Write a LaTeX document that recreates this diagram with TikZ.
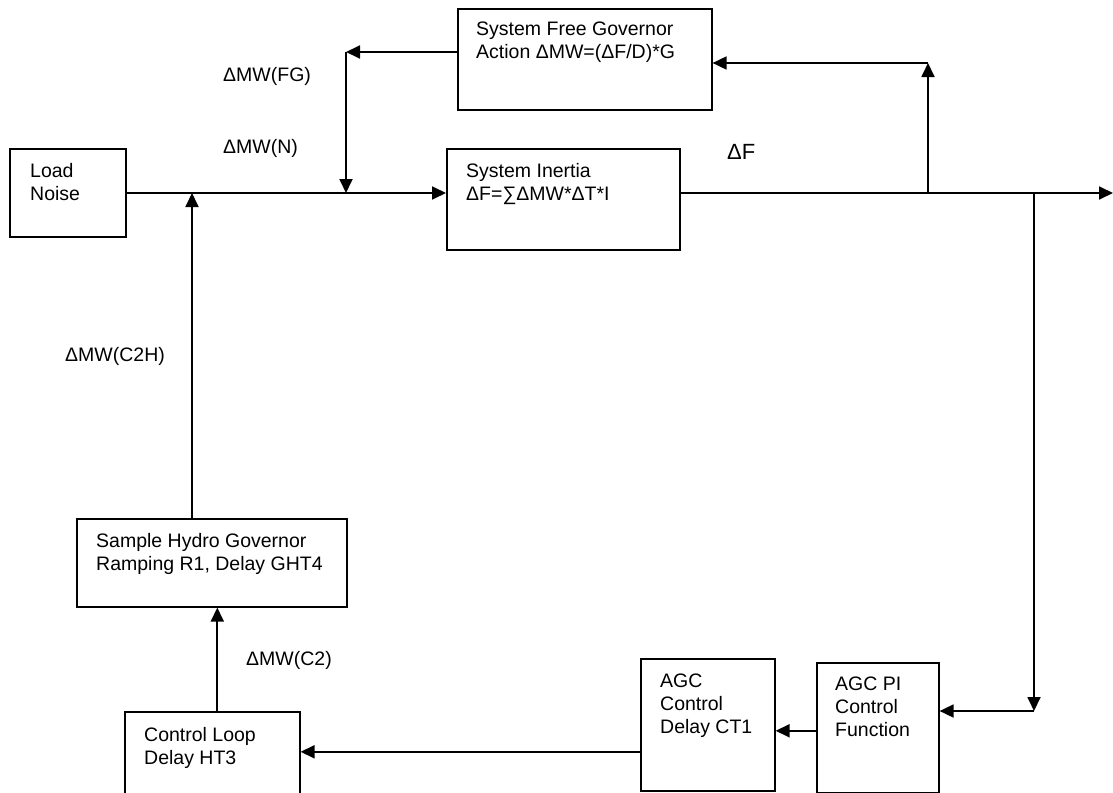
\documentclass[tikz,border=0pt]{standalone}
\usepackage{fontspec}
\setmainfont{Liberation Sans}
\usetikzlibrary{arrows.meta,calc}
\tikzset{
  blk/.style={draw, line width=1.6pt, inner sep=0pt, anchor=north west},
  txt/.style={inner sep=0pt, anchor=north west, align=left, font=\fontsize{19.5}{23}\selectfont},
  bigtxt/.style={inner sep=0pt, anchor=north west, font=\fontsize{22}{26}\selectfont},
  wire/.style={line width=1.8pt},
  arr/.style={line width=1.8pt, -{Triangle[length=14pt,width=13pt]}}
}
\begin{document}
\begin{tikzpicture}[x=1pt,y=-1pt]
\useasboundingbox (0,0) rectangle (1113,792);
\clip (0,0) rectangle (1113,792);
% boxes
\node[blk, minimum width=116pt, minimum height=88pt] (LN) at (9,148) {};
\node[blk, minimum width=254pt, minimum height=101pt] (SFG) at (457,8) {};
\node[blk, minimum width=233pt, minimum height=101pt] (SI) at (446,148) {};
\node[blk, minimum width=270pt, minimum height=88pt] (HG) at (76,518) {};
\node[blk, minimum width=175pt, minimum height=100pt] (CL) at (124,711) {};
\node[blk, minimum width=134pt, minimum height=132pt] (AGC) at (640,658) {};
\node[blk, minimum width=122pt, minimum height=130pt] (PI) at (816,662) {};
% box texts
\node[txt] (tLN) at (30,163) {Load\\Noise};
\node[txt] (tSFG) at (476,22) {System Free Governor\\Action ΔMW=(ΔF/D)*G};
\node[txt] (tSI) at (466,163) {System Inertia\\ΔF=∑ΔMW*ΔT*I};
\node[txt] (tHG) at (96,533) {Sample Hydro Governor\\Ramping R1, Delay GHT4};
\node[txt] (tCL) at (144,727) {Control Loop\\Delay HT3};
\node[txt] (tAGC) at (660,674) {AGC\\Control\\Delay CT1};
\node[txt] (tPI) at (835,677) {AGC PI\\Control\\Function};
% labels
\node[txt] (lFG) at (223,67) {ΔMW(FG)};
\node[txt] (lN) at (223,139) {ΔMW(N)};
\node[txt] (lC2H) at (65,347) {ΔMW(C2H)};
\node[txt] (lC2) at (246,651) {ΔMW(C2)};
\node[bigtxt] (lDF) at (727,144) {ΔF};
% junction coordinates
\coordinate (j1) at (192,193);
\coordinate (fg) at (346,52);
\coordinate (out) at (1113,193);
\coordinate (b1) at (928,193);
\coordinate (b1t) at (928,63);
\coordinate (b2) at (1034,193);
\coordinate (b2b) at (1034,711);
% connectors
\draw[arr] (LN.east |- j1) -- (j1 -| SI.west);
\draw[arr] (SFG.west |- fg) -- (fg);
\draw[arr] (fg) -- (fg |- j1);
\draw[arr] (SI.east |- out) -- (out);
\draw[arr] (b1) -- (b1t);
\draw[arr] (b1t) -- (b1t -| SFG.east);
\draw[arr] (b2) -- (b2b);
\draw[arr] (b2b) -- (b2b -| PI.east);
\draw[arr] ([yshift=-3pt]PI.west) -- ([yshift=-3pt]PI.west -| AGC.east);
\draw[arr] ([yshift=-27pt]AGC.west) -- ([yshift=-27pt]AGC.west -| CL.east);
\draw[arr] ([xshift=5pt]CL.north) -- ([xshift=5pt]CL.north |- HG.south);
\draw[arr] (j1 |- HG.north) -- (j1);
\end{tikzpicture}
\end{document}
